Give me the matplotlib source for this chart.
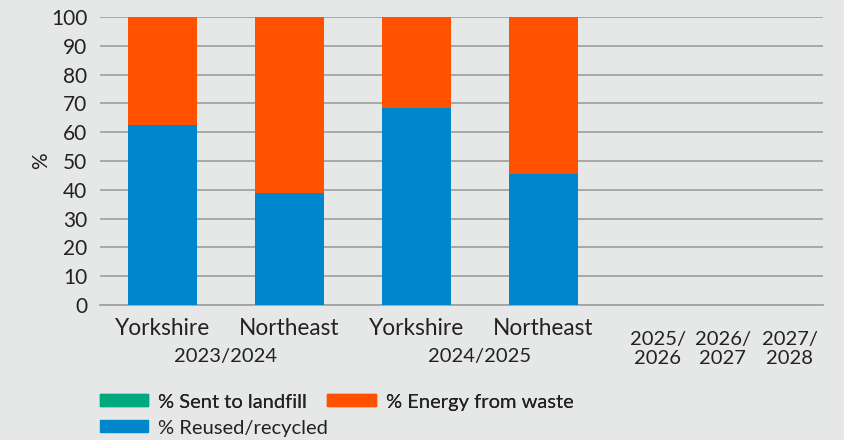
import matplotlib
matplotlib.use("Agg")
import matplotlib.pyplot as plt
import matplotlib.patches as mpatches
import matplotlib.transforms as mtransforms

# data
regions = ['Yorkshire', 'Northeast', 'Yorkshire', 'Northeast']
years = ['2023/2024', '2024/2025']
future_years = ['2025/\n2026', '2026/\n2027', '2027/\n2028']
landfill = [0, 0, 0, 0]
reused = [62.6, 39.0, 68.5, 45.6]
energy = [100 - r - l for r, l in zip(reused, landfill)]

c_land = '#00A87E'
c_energy = '#FF5100'
c_reused = '#0086CB'
bg = '#E6E8E7'
txt = '#222222'

plt.rcParams['font.family'] = ['Lato', 'DejaVu Sans']

fig = plt.figure(figsize=(8.44, 4.40), dpi=100, facecolor=bg)
ax = fig.add_axes([100/844, 1-305/440, 723/844, 288/440])
ax.set_facecolor(bg)

x = [0, 1, 2, 3]
w = 0.54
ax.bar(x, reused, w, color=c_reused, zorder=3)
ax.bar(x, landfill, w, bottom=reused, color=c_land, zorder=3)
bot = [r + l for r, l in zip(reused, landfill)]
ax.bar(x, energy, w, bottom=bot, color=c_energy, zorder=3)

ax.set_xlim(-0.49, 5.2)
ax.set_ylim(0, 100)
ax.set_yticks(range(0, 101, 10))
ax.yaxis.grid(True, color='#A3A3A3', linewidth=1.3, zorder=0)
ax.tick_params(axis='y', length=0, pad=9, labelsize=15, labelcolor=txt)
ax.set_xticks([])
for s in ['top', 'right', 'left']:
    ax.spines[s].set_visible(False)
ax.spines['bottom'].set_color('#A3A3A3')
ax.spines['bottom'].set_linewidth(1.3)
ax.set_ylabel('%', fontsize=15, color=txt)
ax.yaxis.set_label_coords(-0.068, 0.5)

tr = mtransforms.blended_transform_factory(ax.transData, ax.transAxes)
for xi, r in zip(x, regions):
    ax.text(xi, -0.083, r, transform=tr, ha='center', va='center', fontsize=16.3, color=txt)
for i, y in enumerate(years):
    ax.text(x[2*i] + 0.5, -0.18, y, transform=tr, ha='center', va='center', fontsize=14.5, color=txt)
for xi, y in zip([3.9, 4.41, 4.94], future_years):
    ax.text(xi, -0.153, y, transform=tr, ha='center', va='center', fontsize=14.5, color=txt, linespacing=1.1)

h_land = mpatches.Patch(color=c_land, label='% Sent to landfill')
h_energy = mpatches.Patch(color=c_energy, label='% Energy from waste')
h_reused = mpatches.Patch(color=c_reused, label='% Reused/recycled')
kw = dict(frameon=False, fontsize=14.5, handlelength=2.4, handleheight=0.55,
          handletextpad=0.5, borderpad=0, borderaxespad=0, labelcolor=txt)
leg1 = fig.legend(handles=[h_land, h_energy], ncol=2, loc='center left',
                  bbox_to_anchor=(100/844, 1-402/440), columnspacing=1.0, **kw)
fig.add_artist(leg1)
fig.legend(handles=[h_reused], loc='center left',
           bbox_to_anchor=(100/844, 1-428/440), **kw)

fig.savefig('out.png', dpi=100, facecolor=bg)
